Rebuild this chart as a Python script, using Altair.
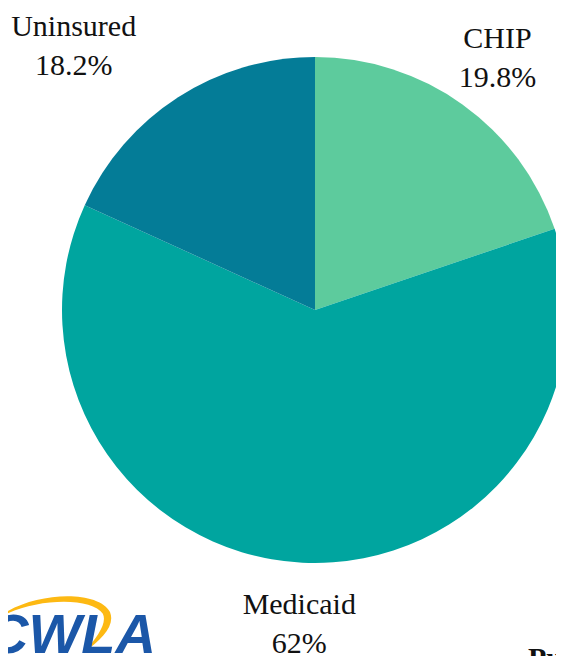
import math
import altair as alt
import pandas as pd

# ---- data ----
categories = ["CHIP", "Medicaid", "Uninsured"]
shares = [19.8, 62.0, 18.2]
slice_order = [1, 2, 3]
colors = ["#5DCB9D", "#00A59F", "#047C97"]

df = pd.DataFrame({"cat": categories, "pct": shares, "ord": slice_order})
df["label"] = [f"{c}\n{p:g}%" for c, p in zip(categories, shares)]

CX, CY = 307, 302      # pie centre inside the chart (page margin is 8px)
R = 253
SERIF = "Liberation Serif"

theta_scale = alt.Scale(domain=[0, 100], range=[0, 2 * math.pi])

base = (
    alt.Chart(df)
    .transform_stack(stack="pct", groupby=[], as_=["s0", "s1"],
                     sort=[alt.SortField("ord", order="ascending")])
    .transform_calculate(mid="(datum.s0 + datum.s1) / 2")
)

pie = base.mark_arc(radius=R, strokeWidth=0).encode(
    theta=alt.Theta("s0:Q", scale=theta_scale),
    theta2="s1:Q",
    color=alt.Color("cat:N", scale=alt.Scale(domain=categories, range=colors), legend=None),
    x=alt.value(CX),
    y=alt.value(CY),
)


def label_layer(cond, radius, dx=0, dy=0):
    return base.transform_filter(cond).mark_text(
        radius=radius, dx=dx, dy=dy, font=SERIF, fontSize=30, lineBreak="\n",
        lineHeight=39, color="#111111", align="center", baseline="middle",
    ).encode(
        theta=alt.Theta("mid:Q", scale=theta_scale),
        text="label:N",
        x=alt.value(CX),
        y=alt.value(CY),
    )


lab_chip = label_layer("datum.cat == 'CHIP'", 313, dy=-17)
lab_med = label_layer("datum.cat == 'Medicaid'", 313, dy=-18)
lab_unins = label_layer("datum.cat == 'Uninsured'", 313, dx=-72, dy=-20)

# ---- decorative logo and cropped footer text ----
SWOOSH = ("M -1.09 -0.05 C -0.55 -0.55 0.75 -0.65 1.0 -0.2 "
          "C 1.1 0.05 0.85 0.3 0.53 0.53 "
          "C 0.78 0.25 0.95 0.0 0.87 -0.17 "
          "C 0.65 -0.5 -0.5 -0.45 -1.09 -0.05 Z")
deco = alt.Chart(pd.DataFrame({"k": [0]}))
swoosh = deco.mark_point(
    shape=SWOOSH, size=12100, filled=True, color="#FDB913", opacity=1, strokeWidth=0,
).encode(x=alt.value(47), y=alt.value(615))
logo = deco.mark_text(
    text="CWLA", font="Liberation Sans", fontSize=56, fontWeight="bold",
    fontStyle="italic", color="#1B57A8", align="left", baseline="alphabetic",
).encode(x=alt.value(-20), y=alt.value(645))
footer = deco.mark_text(
    text="Pu", font=SERIF, fontSize=30, fontWeight="bold", color="#111111",
    align="left", baseline="alphabetic",
).encode(x=alt.value(520), y=alt.value(660))

chart = (
    alt.layer(pie, lab_chip, lab_med, lab_unins, swoosh, logo, footer)
    .properties(width=548, height=648, padding=0,
                autosize=alt.AutoSizeParams(type="none"))
    .configure_view(strokeWidth=0)
)

chart.save("out.html", embed_options={"renderer": "svg", "actions": False})
